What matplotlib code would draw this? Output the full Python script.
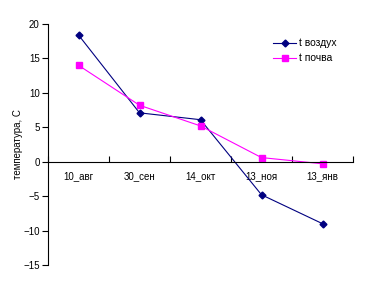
import matplotlib
matplotlib.use("Agg")
import matplotlib.pyplot as plt

plt.rcParams['font.family'] = ['Liberation Sans', 'DejaVu Sans']

dates = ['10_авг', '30_сен', '14_окт', '13_ноя', '13_янв']
t_air = [18.4, 7.1, 6.1, -4.8, -9.0]
t_soil = [14.0, 8.2, 5.2, 0.6, -0.3]

fig = plt.figure(figsize=(3.75, 2.82), dpi=100)
ax = fig.add_axes([48/375, 17/282, 305/375, 241/282])

x = range(len(dates))
ax.plot(x, t_air, color='#000080', lw=0.8, marker='D', ms=3.5, label='t воздух')
ax.plot(x, t_soil, color='#ff00ff', lw=0.8, marker='s', ms=5, label='t почва')

ax.set_xlim(-0.5, 4.5)
ax.set_ylim(-15, 20)
ax.set_yticks(range(-15, 21, 5))
ax.tick_params(axis='y', labelsize=7, length=4, width=0.8, direction='out', pad=2)

ax.spines['bottom'].set_position(('data', 0))
ax.spines['top'].set_visible(False)
ax.spines['right'].set_visible(False)
for s in ('left', 'bottom'):
    ax.spines[s].set_linewidth(0.8)

# category labels at centres, tick marks at boundaries
ax.set_xticks(list(x))
ax.set_xticklabels(dates)
ax.tick_params(axis='x', which='major', length=0, labelsize=7, pad=7)
ax.set_xticks([i + 0.5 for i in range(-1, len(dates))], minor=True)
ax.tick_params(axis='x', which='minor', length=4, width=0.8, direction='in')

ax.set_ylabel('температура, С', fontsize=7, labelpad=0)

fig.legend(loc='upper left', bbox_to_anchor=(268/375, 1 - 33/282), frameon=False,
           fontsize=7.5, handlelength=2.2, handletextpad=0.3, labelspacing=0.5,
           borderpad=0)

fig.savefig('out.png', dpi=100)
